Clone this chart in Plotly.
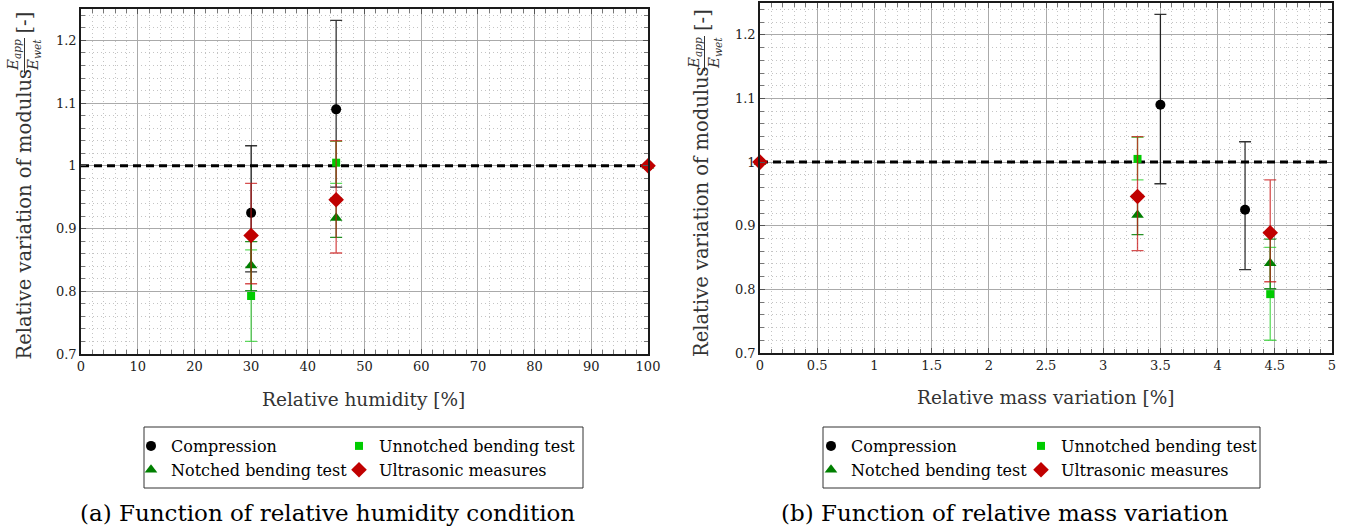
import plotly.graph_objects as go

# ---------------- data ----------------
humidity_compression = [30, 45, 100]
humidity_other = [30, 45, 100]
mass_compression = [4.24, 3.5, 0]
mass_other = [4.46, 3.3, 0]

compression = [0.925, 1.090, 1.0]
compression_up = [0.107, 0.142, 0]
compression_down = [0.094, 0.124, 0]

unnotched = [0.7925, 1.005, 1.0]
unnotched_up = [0.0735, 0.034, 0]
unnotched_down = [0.0725, 0.033, 0]

notched = [0.841, 0.917, 1.0]
notched_up = [0.038, 0.031, 0]
notched_down = [0.040, 0.031, 0]

ultrasonic = [0.889, 0.946, 1.0]
ultrasonic_up = [0.083, 0.094, 0]
ultrasonic_down = [0.077, 0.085, 0]

reference_value = 1.0

x1_range = [0, 100]
x2_range = [0, 5]
y_range = [0.7, 1.25]
y_ticks = [0.7, 0.8, 0.9, 1.0, 1.1, 1.2]
y_ticktext = ["0.7", "0.8", "0.9", "1", "1.1", "1.2"]
x1_ticks = [0, 10, 20, 30, 40, 50, 60, 70, 80, 90, 100]
x2_ticks = [0, 0.5, 1, 1.5, 2, 2.5, 3, 3.5, 4, 4.5, 5]
x2_ticktext = ["0", "0.5", "1", "1.5", "2", "2.5", "3", "3.5", "4", "4.5", "5"]

series = [
    ("Compression", compression, compression_up, compression_down,
     "circle", 10, "#000000", "rgba(0,0,0,0.8)", "compression"),
    ("Unnotched bending test", unnotched, unnotched_up, unnotched_down,
     "square", 8, "#00cc00", "rgba(40,205,40,0.75)", "other"),
    ("Notched bending test", notched, notched_up, notched_down,
     "triangle-up", 11, "#007f00", "rgba(0,127,0,0.85)", "other"),
    ("Ultrasonic measures", ultrasonic, ultrasonic_up, ultrasonic_down,
     "diamond", 12, "#c00000", "rgba(200,20,20,0.75)", "other"),
]

W, H = 1358, 531
def px(x):
    return x / W
def py(y):
    return 1 - y / H

fig = go.Figure()

# dashed reference lines at y = 1 spanning each x axis range
for xa, ya, xr in (("x", "y", x1_range), ("x2", "y2", x2_range)):
    fig.add_trace(go.Scatter(
        x=xr, y=[reference_value, reference_value], mode="lines",
        xaxis=xa, yaxis=ya, showlegend=False, hoverinfo="skip",
        line=dict(color="black", width=3, dash="8px,5px"),
    ))

legend_of = {
    ("x", "Compression"): "legend", ("x", "Notched bending test"): "legend",
    ("x", "Unnotched bending test"): "legend2", ("x", "Ultrasonic measures"): "legend2",
    ("x2", "Compression"): "legend3", ("x2", "Notched bending test"): "legend3",
    ("x2", "Unnotched bending test"): "legend4", ("x2", "Ultrasonic measures"): "legend4",
}

for xa, ya in (("x", "y"), ("x2", "y2")):
    for name, yv, up, dn, sym, size, col, ecol, kind in series:
        if xa == "x":
            xv = humidity_compression if kind == "compression" else humidity_other
        else:
            xv = mass_compression if kind == "compression" else mass_other
        fig.add_trace(go.Scatter(
            x=xv, y=yv, mode="markers", name=name,
            xaxis=xa, yaxis=ya, legend=legend_of[(xa, name)],
            marker=dict(symbol=sym, size=size, color=col, line=dict(width=0)),
            error_y=dict(type="data", symmetric=False, array=up, arrayminus=dn,
                         color=ecol, thickness=1.3, width=6),
            cliponaxis=False, showlegend=True,
        ))

font_tick = dict(family="DejaVu Serif", size=13, color="#222222")
common_axis = dict(
    showline=True, linecolor="#1a1a1a", linewidth=1.5, mirror="ticks",
    ticks="inside", ticklen=5, tickcolor="#555555", tickwidth=1,
    showgrid=True, gridcolor="#aaaaaa", gridwidth=1,
    zeroline=False, tickfont=font_tick, automargin=False,
)
def minor(dt):
    return dict(dtick=dt, ticks="inside", ticklen=4, tickcolor="#777777",
                showgrid=True, gridcolor="#c4c4c4", griddash="1px,3px", gridwidth=1)

fig.update_layout(
    width=W, height=H,
    margin=dict(l=0, r=0, t=0, b=0, autoexpand=False),
    paper_bgcolor="white", plot_bgcolor="white",
    xaxis=dict(domain=[px(81), px(648)], anchor="y", range=x1_range,
               tickvals=x1_ticks, minor=minor(2), **common_axis),
    yaxis=dict(domain=[py(354), py(9)], anchor="x", range=y_range,
               tickvals=y_ticks, ticktext=y_ticktext, minor=minor(0.02), **common_axis),
    xaxis2=dict(domain=[px(760), px(1332)], anchor="y2", range=x2_range,
                tickvals=x2_ticks, ticktext=x2_ticktext, minor=minor(0.1), **common_axis),
    yaxis2=dict(domain=[py(353), py(3)], anchor="x2", range=y_range,
                tickvals=y_ticks, ticktext=y_ticktext, minor=minor(0.02), **common_axis),
)

legend_font = dict(family="DejaVu Serif", size=16, color="#000000")
leg_common = dict(orientation="v", xanchor="left", yanchor="top",
                  bgcolor="rgba(0,0,0,0)", borderwidth=0, font=legend_font,
                  tracegroupgap=0, itemclick=False, itemdoubleclick=False)
fig.update_layout(
    legend=dict(x=px(131), y=py(429), **leg_common),
    legend2=dict(x=px(339), y=py(429), **leg_common),
    legend3=dict(x=px(811), y=py(429), **leg_common),
    legend4=dict(x=px(1021), y=py(429), **leg_common),
)

shapes = []
# legend boxes
shapes.append(dict(type="rect", xref="paper", yref="paper",
                   x0=px(144), x1=px(583), y0=py(488), y1=py(427),
                   line=dict(color="#333333", width=1)))
shapes.append(dict(type="rect", xref="paper", yref="paper",
                   x0=px(823), x1=px(1260), y0=py(488), y1=py(427),
                   line=dict(color="#333333", width=1)))
# fraction bars in y titles
shapes.append(dict(type="line", xref="paper", yref="paper",
                   x0=px(24.5), x1=px(24.5), y0=py(73), y1=py(38),
                   line=dict(color="#333333", width=1)))
shapes.append(dict(type="line", xref="paper", yref="paper",
                   x0=px(704.5), x1=px(704.5), y0=py(71), y1=py(36),
                   line=dict(color="#333333", width=1)))
fig.update_layout(shapes=shapes)

xtitle_font = dict(family="DejaVu Serif", size=18.5, color="#333333")
ytitle_font = dict(family="DejaVu Serif", size=19.5, color="#333333")
frac_font = dict(family="DejaVu Serif", size=15, color="#333333")
cap_font = dict(family="DejaVu Serif", size=23, color="#000000")

def ann(text, x, y, font, angle=0):
    return dict(text=text, x=px(x), y=py(y), xref="paper", yref="paper",
                xanchor="center", yanchor="middle", showarrow=False,
                textangle=angle, font=font)

num = "<i>E<sub>app</sub></i>"
den = "<i>E<sub>wet</sub></i>"
annotations = [
    ann("Relative humidity [%]", 363, 399, xtitle_font),
    ann("Relative mass variation [%]", 1045, 397, xtitle_font),
    ann("Relative variation of modulus", 23.5, 214, ytitle_font, -90),
    ann("Relative variation of modulus", 702, 212, ytitle_font, -90),
    ann(num, 14, 55, frac_font, -90),
    ann(den, 34, 55, frac_font, -90),
    ann(num, 694, 53, frac_font, -90),
    ann(den, 714, 53, frac_font, -90),
    ann("[-]", 23.5, 23, ytitle_font, -90),
    ann("[-]", 703, 20, ytitle_font, -90),
    ann("(a) Function of relative humidity condition", 327, 513, cap_font),
    ann("(b) Function of relative mass variation", 1005, 513, cap_font),
]
fig.update_layout(annotations=annotations)

fig.write_html("out.html")
